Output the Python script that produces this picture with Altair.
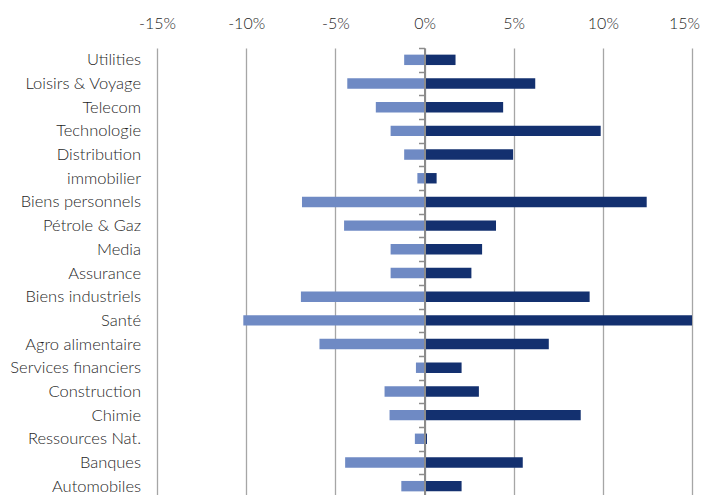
import altair as alt
import pandas as pd

categories = ["Utilities", "Loisirs & Voyage", "Telecom", "Technologie", "Distribution",
              "immobilier", "Biens  personnels", "Pétrole & Gaz", "Media", "Assurance",
              "Biens industriels", "Santé", "Agro alimentaire", "Services financiers",
              "Construction", "Chimie", "Ressources Nat.", "Banques", "Automobiles"]
neg_values = [-1.14, -4.33, -2.73, -1.90, -1.14, -0.40, -6.87, -4.51, -1.90, -1.90,
              -6.93, -10.16, -5.89, -0.48, -2.24, -1.96, -0.54, -4.45, -1.30]
pos_values = [1.74, 6.21, 4.41, 9.88, 4.97, 0.68, 12.46, 4.01, 3.23, 2.63,
              9.26, 15.0, 6.97, 2.08, 3.05, 8.76, 0.14, 5.51, 2.08]
series_names = ["Baisse", "Hausse"]
series_colors = ["#6F8AC4", "#13306F"]
x_ticks = [-15, -10, -5, 0, 5, 10, 15]

rows = []
for c, n, p in zip(categories, neg_values, pos_values):
    rows.append({"cat": c, "serie": series_names[0], "val": n})
    rows.append({"cat": c, "serie": series_names[1], "val": p})
df = pd.DataFrame(rows)

W = 535
H = 450

chart = alt.Chart(df).mark_bar(height=alt.RelativeBandSize(0.44)).encode(
    x=alt.X("val:Q", stack=None,
            scale=alt.Scale(domain=[-15, 15], nice=False, zero=False),
            axis=alt.Axis(orient="top", values=x_ticks, labelExpr="datum.value + '%'",
                          title=None, domain=False, ticks=False, grid=True,
                          gridColor="#A6A6A6", gridWidth=1.3, labelFlush=False,
                          labelOffset={"condition": {"test": "datum.value == 15", "value": -8},
                                       "value": 0},
                          labelFont="Lato", labelFontSize=16, labelFontWeight=300,
                          labelColor="#1f1f1f", labelPadding=17)),
    y=alt.Y("cat:N", sort=categories,
            scale=alt.Scale(paddingInner=0, paddingOuter=0),
            axis=alt.Axis(title=None, orient="left", offset=-W / 2,
                          domain=True, domainColor="#8C8C8C", domainWidth=2,
                          ticks=True, tickBand="extent", tickSize=6, tickColor="#8C8C8C",
                          tickWidth=1.5, grid=False,
                          labelFont="Lato", labelFontSize=16.5, labelFontWeight=300,
                          labelColor="#1f1f1f",
                          labelPadding=278, labelAlign="right", zindex=1)),
    color=alt.Color("serie:N", scale=alt.Scale(domain=series_names, range=series_colors),
                    legend=None),
).properties(
    width=W, height=H,
    padding={"left": 1, "top": 7, "right": 0, "bottom": 5},
).configure_view(stroke=None)

chart.save("out.html", embed_options={"renderer": "svg", "actions": False})
